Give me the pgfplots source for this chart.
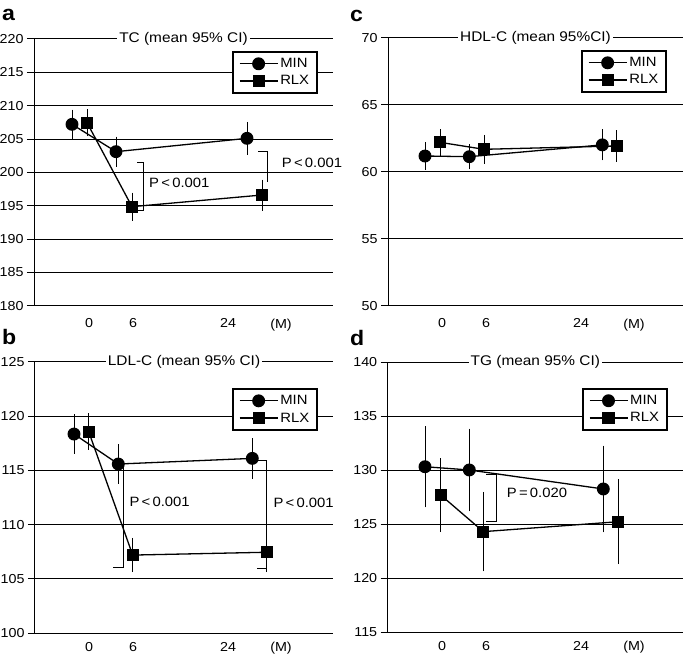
\documentclass[border=0pt]{standalone}
\usepackage{fontspec}
\setmainfont{Liberation Sans}[FakeStretch=1.1]
\usepackage{pgfplots}
\pgfplotsset{compat=1.18}
\newcommand{\fs}{\fontsize{13}{15}\selectfont}
\newcommand{\fp}{\fontsize{13.5}{15}\selectfont}
\tikzset{ttl/.style={fill=white, inner xsep=2pt, inner ysep=1pt, font=\fontsize{14}{16}\selectfont}}
\pgfplotsset{
  panel/.style={
    scale only axis,
    axis x line*=bottom, axis y line*=left,
    axis line style={black, line width=1pt},
    ymajorgrids, grid style={black, line width=1pt},
    ytick distance=5,
    tick align=outside,
    major tick length=7pt,
    tick style={black, line width=1pt},
    x tick style={draw=none},
    tick label style={font=\fs},
    /pgf/number format/assume math mode=true,
    clip=false,
    legend cell align=left,
    legend image code/.code={\draw[mark repeat=2,mark phase=2] plot coordinates {(0pt,0pt)(19pt,0pt)(38pt,0pt)};},
    legend style={anchor=north east, draw=black, line width=1.8pt, fill=white,
      font=\fp, inner xsep=6pt, inner ysep=4.5pt, row sep=2.5pt,
      /tikz/every even column/.append style={column sep=1pt}},
    error bars/y dir=both, error bars/y explicit,
    error bars/error bar style={black, line width=1pt},
    error bars/error mark options={black, line width=1pt, mark size=3.5pt},
  },
  toprow/.style={x tick label style={yshift=-2.5pt}},
  bottomrow/.style={x tick label style={yshift=1.5pt}},
  minp/.style={black, line width=1.3pt, mark=*, mark size=5.8pt, mark options={solid, fill=black}},
  rlxp/.style={black, line width=1.3pt, mark=square*, mark size=5.4pt, mark options={solid, fill=black}},
  brk/.style={black, line width=1pt, no marks, forget plot},
}
\begin{document}
\begin{tikzpicture}[font=\fs]
\useasboundingbox (0pt,0pt) rectangle (685pt,655pt);
% ---------- panel a ----------
\begin{axis}[panel, toprow, at={(34pt,349.3pt)}, anchor=south west,
  width=299pt, height=266.7pt, xmin=34, xmax=333, ymin=180, ymax=220,
  xtick={89,133,228,281}, xticklabels={0,6,24,(M)},
  legend style={at={(0.95,0.955)}}]
\addplot[minp] table[x=x, y=y, y error=e] {
x y e
72 207.2 1.7
116 203.1 1.75
247 205.1 1.95
};
\addlegendentry{MIN}
\addplot[rlxp] table[x=x, y=y, y error=e] {
x y e
87 207.45 1.5
132 194.85 1.6
262 196.6 1.8
};
\addlegendentry{RLX}
\addplot[brk] coordinates {(137,201.5)(143,201.5)(143,194.25)(137,194.25)};
\addplot[brk] coordinates {(258,203.1)(267,203.1)(267,198.5)};
\node[anchor=west, inner sep=0pt, font=\fp] at (axis cs:149,198.35) {P\,<\,0.001};
\node[anchor=west, inner sep=0pt, font=\fp] at (axis cs:281.7,201.35) {P\,<\,0.001};
\node[ttl] at (rel axis cs:0.5,1) {TC (mean 95\% CI)};
\end{axis}
% ---------- panel b ----------
\begin{axis}[panel, bottomrow, at={(35pt,21.7pt)}, anchor=south west,
  width=298pt, height=271.6pt, xmin=35, xmax=333, ymin=100, ymax=125,
  xtick={89,133,228,281}, xticklabels={0,6,24,(M)},
  legend style={at={(0.95,0.903)}}]
\addplot[brk] coordinates {(118,115.58)(123.3,115.58)(123.3,106.07)(113.3,106.07)};
\addplot[brk] coordinates {(252,115.86)(266.7,115.86)(266.7,105.98)(257,105.98)};
\addplot[minp] table[x=x, y=y, y error=e] {
x y e
74 118.34 1.5
118.3 115.58 1.5
252.3 116.1 1.55
};
\addlegendentry{MIN}
\addplot[rlxp] table[x=x, y=y, y error=e] {
x y e
88.7 118.56 1.35
132.7 107.2 1.25
266.7 107.46 1.5
};
\addlegendentry{RLX}
\node[anchor=west, inner sep=0pt, font=\fp] at (axis cs:129.3,112.1) {P\,<\,0.001};
\node[anchor=west, inner sep=0pt, font=\fp] at (axis cs:273.3,112.0) {P\,<\,0.001};
\node[ttl] at (rel axis cs:0.5,1) {LDL-C (mean 95\% CI)};
\end{axis}
% ---------- panel c ----------
\begin{axis}[panel, toprow, at={(388pt,349.3pt)}, anchor=south west,
  width=295pt, height=268pt, xmin=388, xmax=683, ymin=50, ymax=70,
  xtick={442,486,581,634}, xticklabels={0,6,24,(M)},
  legend style={at={(0.946,0.954)}}]
\addplot[minp] table[x=x, y=y, y error=e] {
x y e
425 61.17 0.78
469.3 61.12 0.68
602.3 62.0 0.9
};
\addlegendentry{MIN}
\addplot[rlxp] table[x=x, y=y, y error=e] {
x y e
440 62.19 0.73
484 61.67 0.82
616.7 61.92 0.9
};
\addlegendentry{RLX}
\node[ttl] at (rel axis cs:0.5,1) {HDL-C (mean 95\%CI)};
\end{axis}
% ---------- panel d ----------
\begin{axis}[panel, bottomrow, at={(387.7pt,22.7pt)}, anchor=south west,
  width=295.3pt, height=270pt, xmin=387.7, xmax=683, ymin=115, ymax=140,
  xtick={442,486,581,634}, xticklabels={0,6,24,(M)},
  legend style={at={(0.949,0.905)}}]
\addplot[brk] coordinates {(486,129.57)(496.7,129.57)(496.7,125.24)(486,125.24)};
\addplot[minp] table[x=x, y=y, y error=e] {
x y e
425 130.33 3.43
469.3 130.03 3.5
603.3 128.27 3.7
};
\addlegendentry{MIN}
\addplot[rlxp] table[x=x, y=y, y error=e] {
x y e
440.7 127.71 3.1
483.3 124.32 3.36
618.3 125.24 3.6
};
\addlegendentry{RLX}
\node[anchor=west, inner sep=0pt, font=\fp] at (axis cs:506.7,127.93) {P\,=\,0.020};
\node[ttl] at (rel axis cs:0.5,1) {TG (mean 95\% CI)};
\end{axis}
% panel letters
\node[font=\fontsize{21}{21}\selectfont\bfseries, anchor=base west, inner sep=0pt] at (2pt,634pt) {a};
\node[font=\fontsize{21}{21}\selectfont\bfseries, anchor=base west, inner sep=0pt] at (2pt,310pt) {b};
\node[font=\fontsize{21}{21}\selectfont\bfseries, anchor=base west, inner sep=0pt] at (350pt,633.3pt) {c};
\node[font=\fontsize{21}{21}\selectfont\bfseries, anchor=base west, inner sep=0pt] at (350pt,309pt) {d};
\end{tikzpicture}
\end{document}
